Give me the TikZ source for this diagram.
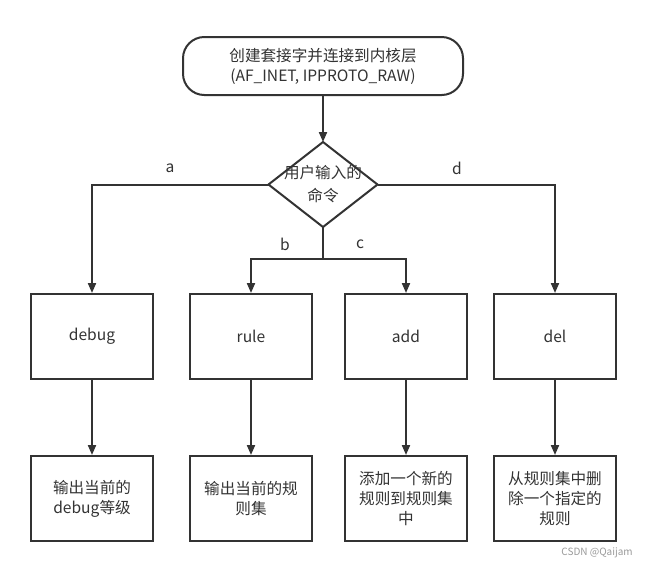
\documentclass[tikz,border=0pt]{standalone}
\usepackage{fontspec}
\setmainfont{Noto Sans CJK SC}
\usetikzlibrary{shapes.geometric,arrows.meta}
\definecolor{ink}{HTML}{333333}
\definecolor{wm}{HTML}{9A9A9A}
\begin{document}
\begin{tikzpicture}[x=0.75pt,y=-0.75pt,
  every node/.style={text=ink,font=\fontsize{11.7pt}{15pt}\selectfont},
  line/.style={draw=ink,line width=1.5pt},
  arrow/.style={line,-{Triangle[length=7.5pt,width=6pt]}},
  term/.style={line,rounded corners=16pt,minimum width=210pt,minimum height=43.5pt,align=center,inner sep=0pt},
  procbox/.style={line,minimum width=91.5pt,minimum height=63.75pt,align=center,inner sep=0pt},
  decision/.style={line,diamond,minimum width=81.75pt,minimum height=63.75pt,inner sep=0pt,outer sep=0pt},
  lbl/.style={inner sep=0pt},
]
\useasboundingbox (0,0) rectangle (648,569);
\fill[white] (0,0) rectangle (648,569);

\node[term] (start) at (323,66) {创建套接字并连接到内核层\\(AF\_INET, IPPROTO\_RAW)};
\node[decision] (dec) at (323,184.5) {};
\node[align=center,inner sep=0pt] (dectext) at (323,184) {用户输入的\\[2pt]命令};

\node[procbox] (debug) at (92,336.5) {debug};
\node[procbox] (rule) at (251,336.5) {rule};
\node[procbox] (add) at (406,336.5) {add};
\node[procbox] (del) at (555,336.5) {del};

\node[procbox] (debugout) at (92,498.5) {输出当前的\\debug等级};
\node[procbox] (ruleout) at (251,498.5) {输出当前的规\\则集};
\node[procbox] (addout) at (406,498.5) {添加一个新的\\规则到规则集\\中};
\node[procbox] (delout) at (555,498.5) {从规则集中删\\除一个指定的\\规则};

\coordinate (split) at (323,259);

\draw[arrow] (start.south) -- (dec.north);
\draw[arrow] (dec.west) -| (debug.north);
\draw[arrow] (dec.east) -| (del.north);
\draw[line] (dec.south) -- (split);
\draw[arrow] (split) -| (rule.north);
\draw[arrow] (split) -| (add.north);

\draw[arrow] (debug.south) -- (debugout.north);
\draw[arrow] (rule.south) -- (ruleout.north);
\draw[arrow] (add.south) -- (addout.north);
\draw[arrow] (del.south) -- (delout.north);

\node[lbl] (la) at (170,168) {a};
\node[lbl] (ld) at (457,168) {d};
\node[lbl] (lb) at (285,244) {b};
\node[lbl] (lc) at (360,244) {c};

\node[text=wm,font=\fontsize{7.5pt}{9pt}\selectfont,anchor=east,inner sep=0pt] (wmark) at (633,553) {CSDN @Qaijam};
\end{tikzpicture}
\end{document}
